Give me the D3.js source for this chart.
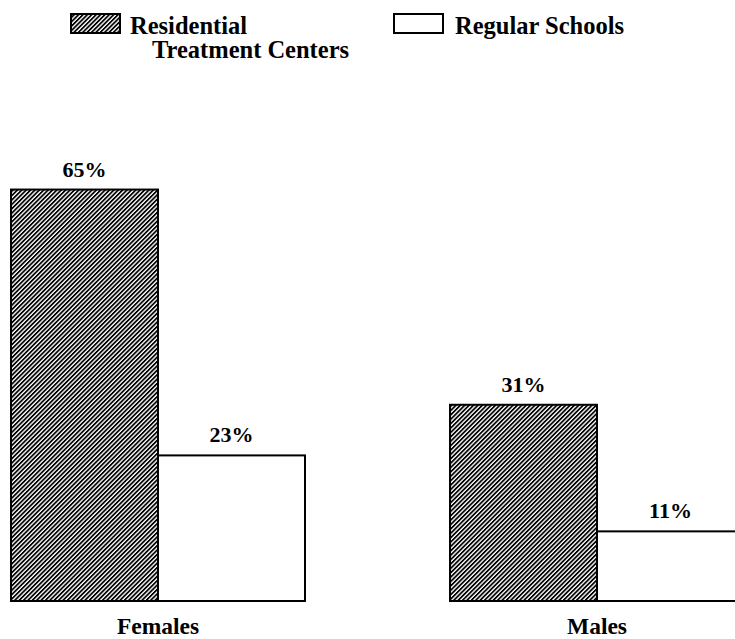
<!DOCTYPE html>
<html>
<head>
<meta charset="utf-8">
<script src="https://cdn.jsdelivr.net/npm/d3@7"></script>
<style>
  html, body { margin: 0; padding: 0; background: #fff; }
  svg text { font-family: "Liberation Serif", "Times New Roman", serif; font-weight: bold; fill: #000; }
</style>
</head>
<body>
<svg id="chart" width="735" height="639"></svg>
<script>
// Share of students, by sex and type of setting
const groups = ["Females", "Males"];
const series = ["Residential Treatment Centers", "Regular Schools"];
const residential = [65, 31];
const regular = [23, 11];
const valueLabels = [["65%", "23%"], ["31%", "11%"]];

const svg = d3.select("#chart");
const defs = svg.append("defs");

// diagonal hatching for the residential bars
defs.append("pattern")
  .attr("id", "hatch")
  .attr("patternUnits", "userSpaceOnUse")
  .attr("width", 3.1)
  .attr("height", 10)
  .attr("patternTransform", "rotate(45)")
  .append("rect")
  .attr("x", 0).attr("y", 0)
  .attr("width", 1.75).attr("height", 10)
  .attr("fill", "#000");

const baseline = 601;
const y = d3.scaleLinear().domain([0, 100]).range([baseline, baseline - 633]);
const xGroup = d3.scalePoint().domain(groups).range([158, 597]);
const xSeries = d3.scaleBand().domain(series).range([-147, 147]).padding(0);

const rows = groups.map((g, i) => ({
  group: g,
  values: [
    { series: series[0], value: residential[i], label: valueLabels[i][0] },
    { series: series[1], value: regular[i], label: valueLabels[i][1] }
  ]
}));

const g = svg.selectAll("g.group")
  .data(rows)
  .join("g")
  .attr("class", "group")
  .attr("transform", d => `translate(${xGroup(d.group)},0)`);

g.selectAll("rect")
  .data(d => d.values)
  .join("rect")
  .attr("x", d => xSeries(d.series))
  .attr("y", d => y(d.value))
  .attr("width", xSeries.bandwidth())
  .attr("height", d => y(0) - y(d.value))
  .attr("fill", d => d.series === series[0] ? "url(#hatch)" : "#fff")
  .attr("stroke", "#000")
  .attr("stroke-width", 2);

g.selectAll("text.value")
  .data(d => d.values)
  .join("text")
  .attr("class", "value")
  .attr("x", d => xSeries(d.series) + xSeries.bandwidth() / 2)
  .attr("y", d => y(d.value) - 13)
  .attr("text-anchor", "middle")
  .attr("font-size", 22)
  .text(d => d.label);

g.append("text")
  .attr("x", 0)
  .attr("y", 634)
  .attr("text-anchor", "middle")
  .attr("font-size", 23.5)
  .text(d => d.group);

// legend
const legend = svg.append("g").attr("class", "legend");
legend.append("rect")
  .attr("x", 71).attr("y", 14).attr("width", 49).attr("height", 19)
  .attr("fill", "url(#hatch)").attr("stroke", "#000").attr("stroke-width", 2);
const t1 = legend.append("text").attr("x", 130).attr("y", 34).attr("font-size", 24.5);
t1.append("tspan").attr("x", 130).text("Residential");
t1.append("tspan").attr("x", 152).attr("dy", 24).text("Treatment Centers");

legend.append("rect")
  .attr("x", 394).attr("y", 14).attr("width", 49).attr("height", 19)
  .attr("fill", "#fff").attr("stroke", "#000").attr("stroke-width", 2);
legend.append("text").attr("x", 455).attr("y", 34).attr("font-size", 24.5).text(series[1]);
</script>
</body>
</html>
